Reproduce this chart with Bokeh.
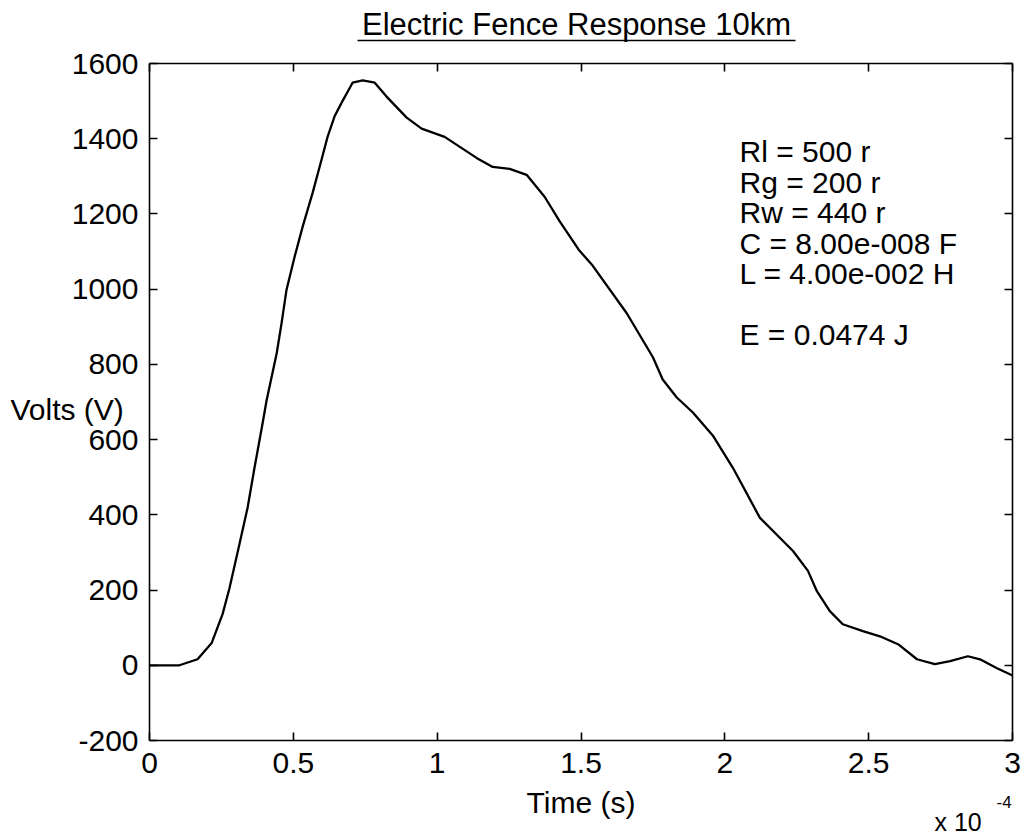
from bokeh.plotting import figure
from bokeh.models import Label, LinearAxis, FixedTicker, Range1d
from bokeh.embed import file_html
from bokeh.resources import INLINE

# ---- data (time in units of 1e-4 s, voltage in V) ----
time_e4 = [0.0, 0.05, 0.104, 0.167, 0.216, 0.254, 0.278, 0.313, 0.341, 0.365, 0.393,
           0.407, 0.442, 0.459, 0.476, 0.504, 0.532, 0.567, 0.598, 0.619, 0.643,
           0.668, 0.706, 0.741, 0.783, 0.824, 0.894, 0.946, 1.026, 1.137, 1.193,
           1.252, 1.311, 1.374, 1.426, 1.492, 1.541, 1.659, 1.75, 1.784, 1.833,
           1.889, 1.958, 2.028, 2.122, 2.237, 2.289, 2.32, 2.365, 2.41, 2.48,
           2.539, 2.602, 2.668, 2.73, 2.783, 2.845, 2.887, 2.946, 2.991, 3.0]
volts = [0, 0, 0, 16, 59, 136, 205, 323, 419, 525, 643,
         704, 829, 909, 997, 1085, 1165, 1256, 1344, 1405, 1459,
         1496, 1549, 1555, 1549, 1512, 1456, 1427, 1405, 1349, 1325,
         1320, 1304, 1245, 1180, 1105, 1062, 936, 819, 760, 712,
         672, 611, 525, 392, 304, 251, 197, 144, 109, 91,
         77, 56, 16, 3, 11, 24, 16, -8, -24, -27]

x_ticks = [0, 0.5, 1, 1.5, 2, 2.5, 3]
x_tick_labels = ["0", "0.5", "1", "1.5", "2", "2.5", "3"]
y_ticks = [-200, 0, 200, 400, 600, 800, 1000, 1200, 1400, 1600]
y_tick_labels = ["-200", "0", "200", "400", "600", "800", "1000", "1200", "1400", "1600"]
x_lim = (0, 3)
y_lim = (-200, 1600)

title_text = "Electric Fence Response 10km"
x_label = "Time (s)"
y_label = "Volts (V)"
multiplier_base = "x 10"
multiplier_exp = "-4"
param_lines = ["Rl = 500 r", "Rg = 200 r", "Rw = 440 r",
               "C = 8.00e-008 F", "L = 4.00e-002 H", "", "E = 0.0474 J"]

FONT = "Liberation Sans"
FS = "30px"

W, H = 1023, 836
# axes box position on the canvas (pixels)
BOX_L, BOX_R, BOX_T, BOX_B = 149, 1012, 63, 740

sx = (BOX_R - BOX_L) / (x_lim[1] - x_lim[0])
sy = (BOX_B - BOX_T) / (y_lim[1] - y_lim[0])
xr = Range1d(x_lim[0] - BOX_L / sx, x_lim[1] + (W - BOX_R) / sx)
yr = Range1d(y_lim[0] - (H - BOX_B) / sy, y_lim[1] + BOX_T / sy)

def dx(px):
    return xr.start + px / sx

def dy(py):
    return yr.end - py / sy

p = figure(width=W, height=H, output_backend="svg", toolbar_location=None,
           x_range=xr, y_range=yr, min_border=0, min_border_left=0,
           min_border_right=0, min_border_top=0, min_border_bottom=0,
           x_axis_location=None, y_axis_location=None)
p.grid.visible = False
p.outline_line_color = None
p.background_fill_color = "white"
p.border_fill_color = "white"

p.line(time_e4, volts, line_color="black", line_width=2.3, line_join="round")

def make_axis(ticks, loc, bounds, labels=None):
    ax = LinearAxis(fixed_location=loc, bounds=bounds, ticker=FixedTicker(ticks=ticks))
    ax.axis_line_color = "black"
    ax.axis_line_width = 1.6
    ax.major_tick_in = 8
    ax.major_tick_out = 0
    ax.major_tick_line_color = "black"
    ax.major_tick_line_width = 1.6
    ax.minor_tick_line_color = None
    ax.major_label_text_font = FONT
    ax.major_label_text_font_size = FS
    ax.major_label_text_color = "black"
    ax.axis_label_text_font = FONT
    ax.axis_label_text_font_size = FS
    ax.axis_label_text_font_style = "normal"
    ax.axis_label_text_color = "black"
    if labels is not None:
        ax.major_label_overrides = labels
    return ax

xb = make_axis(x_ticks, y_lim[0], x_lim,
               {t: s for t, s in zip(x_ticks, x_tick_labels)})
xb.major_label_standoff = 12
xb.axis_label = x_label
xb.axis_label_standoff = 10
p.add_layout(xb, "below")

xt = make_axis(x_ticks, y_lim[1], x_lim, {t: "" for t in x_ticks})
p.add_layout(xt, "above")

yl = make_axis(y_ticks, x_lim[0], y_lim,
               {t: s for t, s in zip(y_ticks, y_tick_labels)})
yl.major_label_standoff = 11
p.add_layout(yl, "left")

yrt = make_axis(y_ticks, x_lim[1], y_lim, {t: "" for t in y_ticks})
p.add_layout(yrt, "right")

SHIFT = 11  # rendered alphabetic baseline sits this much lower than requested

def label(px, py, text, size, align="left"):
    p.add_layout(Label(x=dx(px), y=dy(py - SHIFT), text=text, text_font=FONT,
                       text_font_size=size, text_align=align,
                       text_baseline="alphabetic", text_color="black"))

# title with underline
label(576, 35, title_text, "31px", "center")
p.segment(x0=[dx(357)], y0=[dy(40)], x1=[dx(795)], y1=[dy(40)],
          line_color="black", line_width=1.6)

# horizontal y-axis label
label(10, 420, y_label, FS)

# parameter block
baseline = 162
for line in param_lines:
    if line:
        label(739, baseline, line, "30px")
    baseline += 30.5

# x10^-4 multiplier
label(934, 832, multiplier_base, "25px")
label(996, 812, multiplier_exp, "17px")

open("out.html", "w").write(file_html(p, INLINE))
